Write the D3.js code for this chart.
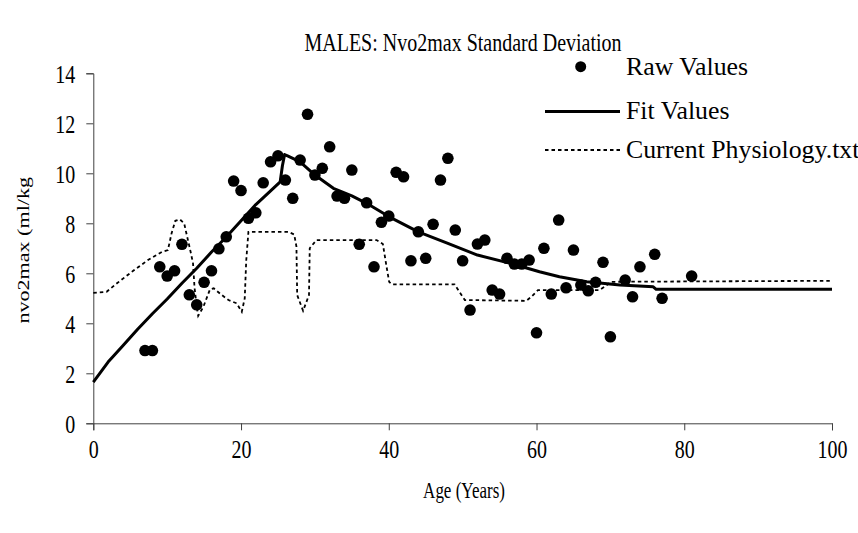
<!DOCTYPE html>
<html>
<head>
<meta charset="utf-8">
<script src="https://cdn.jsdelivr.net/npm/d3@7"></script>
<style>
  html, body { margin: 0; padding: 0; background: #fff; }
  svg { display: block; }
  text { font-family: "Liberation Serif", "Times New Roman", serif; fill: #000; }
</style>
</head>
<body>
<svg id="chart" width="858" height="533"></svg>
<script>
// Raw standard deviation values by age
const rawAge = [7, 8, 9, 10, 11, 12, 13, 14, 15, 16, 17, 18, 19, 20, 21, 22, 23, 24, 25, 26,
  27, 28, 29, 30, 31, 32, 33, 34, 35, 36, 37, 38, 39, 40, 41, 42, 43, 44, 45, 46,
  47, 48, 49, 50, 51, 52, 53, 54, 55, 56, 57, 58, 59, 60, 61, 62, 63, 64, 65, 66,
  67, 68, 69, 70, 72, 73, 74, 76, 77, 81];
const rawValue = [2.91, 2.91, 6.26, 5.89, 6.10, 7.16, 5.14, 4.74, 5.64, 6.10, 6.98, 7.46, 9.69, 9.31, 8.20, 8.42, 9.62, 10.46, 10.70, 9.73,
  9.00, 10.53, 12.36, 9.93, 10.20, 11.06, 9.09, 9.00, 10.13, 7.16, 8.82, 6.26, 8.04, 8.29, 10.04, 9.86, 6.50, 7.66, 6.60, 7.96,
  9.73, 10.60, 7.73, 6.50, 4.53, 7.17, 7.33, 5.33, 5.17, 6.60, 6.37, 6.37, 6.53, 3.62, 7.00, 5.17, 8.13, 5.42, 6.93, 5.53,
  5.30, 5.64, 6.44, 3.46, 5.73, 5.06, 6.26, 6.76, 5.00, 5.89];

// Fitted curve
const fitAge = [0, 1, 2, 4, 6, 8, 10, 12, 14, 16, 18, 20, 22, 24, 25.3, 25.6, 25.9, 26.3, 28, 30,
  32.5, 35, 37, 40, 44, 48, 52, 56.8, 60.4, 63.1, 66.8, 71.3, 75.8, 76.2, 100];
const fitValue = [1.65, 2.05, 2.45, 3.1, 3.76, 4.38, 4.97, 5.6, 6.2, 6.85, 7.45, 8.1, 8.75, 9.3, 9.66, 10.3, 10.75, 10.7, 10.46, 9.93,
  9.4, 9.1, 8.8, 8.27, 7.66, 7.2, 6.73, 6.37, 6.06, 5.86, 5.66, 5.53, 5.46, 5.36, 5.36];

// Current Physiology.txt reference curve
const physAge = [0, 1.8, 3.2, 5.4, 7.4, 9.3, 10.1, 10.6, 11.1, 11.7, 12.3, 12.6, 13.1, 13.5, 13.7, 14.0, 14.2, 14.9, 15.8, 16.3,
  17.4, 18.3, 19.4, 20.1, 20.5, 20.7, 21.0, 26.4, 27.2, 27.5, 27.6, 28.4, 29.2, 29.3, 30.2, 38.35, 39.2, 39.7, 40.05, 40.4,
  48.9, 49.4, 50.3, 58.6, 59.3, 60.2, 68.5, 69.2, 70.1, 99.7];
const physValue = [5.22, 5.26, 5.6, 6.1, 6.53, 6.86, 6.93, 7.6, 8.1, 8.16, 8.0, 7.6, 6.96, 6.4, 5.44, 4.66, 4.3, 4.66, 5.36, 5.4,
  5.13, 4.93, 4.8, 4.46, 5.0, 6.5, 7.66, 7.66, 7.55, 7.07, 5.13, 4.5, 5.13, 7.0, 7.33, 7.33, 7.17, 6.26, 5.66, 5.56,
  5.56, 5.33, 4.93, 4.90, 5.06, 5.33, 5.33, 5.46, 5.66, 5.70];

const xTicks = [0, 20, 40, 60, 80, 100];
const yTicks = [0, 2, 4, 6, 8, 10, 12, 14];

const FONT = '"Liberation Serif", "Times New Roman", serif';
const STRETCH = 1.3; // glyphs are drawn taller than wide

const svg = d3.select("#chart");
const x = d3.scaleLinear().domain([0, 100]).range([93.3, 832]);
const y = d3.scaleLinear().domain([0, 14]).range([423.3, 73.3]);

// Places a text with a vertical stretch around its baseline point
function label(parent, px, py, str, size, anchor, rot) {
  return parent.append("text")
    .attr("transform", `translate(${px},${py}) scale(1,${STRETCH})` + (rot ? ` rotate(${rot})` : ""))
    .attr("text-anchor", anchor)
    .style("font-size", size + "px")
    .text(str);
}

// Title
label(svg, 463, 51, "MALES: Nvo2max Standard Deviation", 20, "middle");

// Axes
const xAxis = svg.append("g")
  .attr("transform", `translate(0,${y(0)})`)
  .call(d3.axisBottom(x).tickValues(xTicks).tickSizeOuter(0).tickSize(7));
const yAxis = svg.append("g")
  .attr("transform", `translate(${x(0)},0)`)
  .call(d3.axisLeft(y).tickValues(yTicks).tickSizeOuter(0).tickSize(7));

[xAxis, yAxis].forEach(g => {
  g.select(".domain").attr("stroke", "#404040").attr("stroke-width", 1);
  g.selectAll(".tick line").attr("stroke", "#404040");
  g.selectAll(".tick text")
    .style("font-family", FONT)
    .style("font-size", "20px")
    .attr("fill", "#000")
    .attr("x", null).attr("y", null).attr("dy", null);
});
xAxis.selectAll(".tick text")
  .attr("text-anchor", "middle")
  .attr("transform", `translate(0,35) scale(1,${STRETCH})`);
yAxis.selectAll(".tick text")
  .attr("text-anchor", "end")
  .attr("transform", `translate(-18,9) scale(1,${STRETCH})`);

// Axis titles
label(svg, 464, 498, "Age (Years)", 17, "middle");
svg.append("text")
  .attr("transform", `translate(29,${(y(0) + y(14)) / 2 + 2}) scale(1,${STRETCH}) rotate(-90)`)
  .attr("text-anchor", "middle")
  .style("font-size", "17px")
  .text("nvo2max (ml/kg");

// Reference curve (dotted)
const physLine = d3.line()
  .x((d, i) => x(physAge[i]))
  .y(d => y(d));
svg.append("path")
  .attr("d", physLine(physValue))
  .attr("fill", "none")
  .attr("stroke", "#000")
  .attr("stroke-width", 1.8)
  .attr("stroke-dasharray", "3.5,3");

// Fitted curve (solid)
const fitLine = d3.line()
  .x((d, i) => x(fitAge[i]))
  .y(d => y(d));
svg.append("path")
  .attr("d", fitLine(fitValue))
  .attr("fill", "none")
  .attr("stroke", "#000")
  .attr("stroke-width", 3)
  .attr("stroke-linejoin", "round");

// Raw points
svg.append("g").selectAll("circle")
  .data(rawValue)
  .join("circle")
  .attr("cx", (d, i) => x(rawAge[i]))
  .attr("cy", d => y(d))
  .attr("r", 5.8)
  .attr("fill", "#000");

// Legend
const legend = svg.append("g");
legend.append("circle").attr("cx", 580.7).attr("cy", 66.7).attr("r", 5.5).attr("fill", "#000");
legend.append("text").attr("x", 626).attr("y", 75).style("font-size", "25.8px").text("Raw Values");
legend.append("line").attr("x1", 545).attr("x2", 620).attr("y1", 111.5).attr("y2", 111.5)
  .attr("stroke", "#000").attr("stroke-width", 3);
legend.append("text").attr("x", 626).attr("y", 119).style("font-size", "25.8px").text("Fit Values");
legend.append("line").attr("x1", 545).attr("x2", 620).attr("y1", 150).attr("y2", 150)
  .attr("stroke", "#000").attr("stroke-width", 1.8).attr("stroke-dasharray", "3.5,3");
legend.append("text").attr("x", 626).attr("y", 158).style("font-size", "25.8px").text("Current Physiology.txt");
</script>
</body>
</html>
